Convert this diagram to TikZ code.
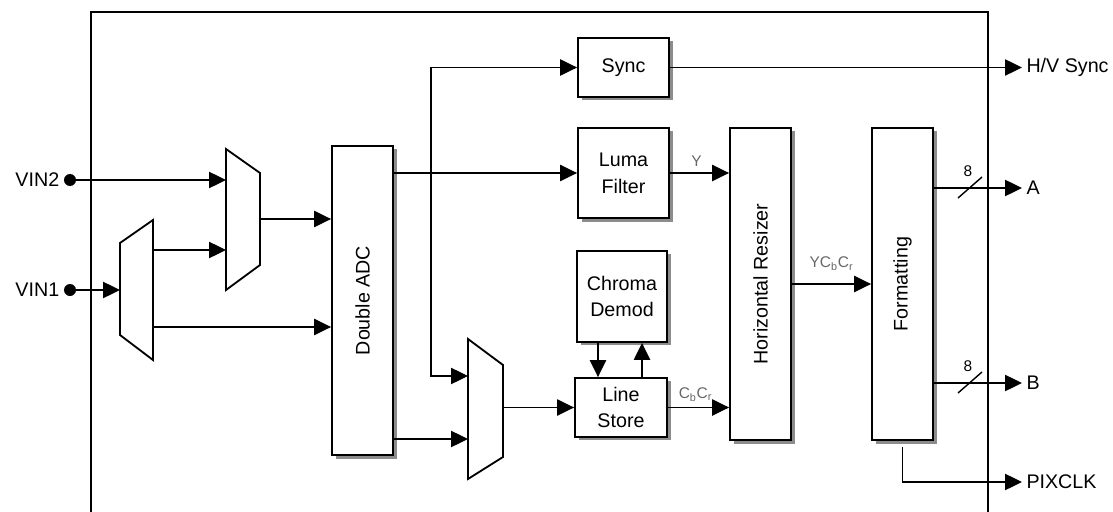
\documentclass[tikz,border=0pt]{standalone}
\usepackage{fontspec}
\setmainfont{Liberation Sans}
\usetikzlibrary{arrows.meta}
\tikzset{
  blk/.style={draw, line width=1.3pt, fill=white, align=center, inner sep=0pt,
    font=\fontsize{14}{19}\selectfont},
  boxshadow/.style={fill=black!45},
  wire/.style={line width=1pt},
  arr/.style={wire, -{Triangle[length=12pt,width=11.5pt]}},
  mux/.style={line width=1.3pt, fill=white},
  pin/.style={circle, fill=black, minimum size=0.3cm, inner sep=0pt},
  io/.style={font=\fontsize{14}{16}\selectfont, inner sep=3pt},
  sig/.style={font=\fontsize{11}{13}\selectfont, text=black!60, inner sep=1pt},
}
\begin{document}
\begin{tikzpicture}[x=0.025cm,y=-0.025cm]
  \useasboundingbox (0,0) rectangle (1113,512);
  % chip outline
  \draw[line width=2pt] (91,515) |- (988,12) -- (988,515);

  % inputs
  \node[pin] (vin2) at (70,180) {};
  \node[pin] (vin1) at (70,290) {};
  \node[io,anchor=east] at (vin2.west) {VIN2};
  \node[io,anchor=east] at (vin1.west) {VIN1};

  % input muxes
  \draw[mux] (120,243) -- (153,220) -- (153,360) -- (120,335) -- cycle;
  \draw[mux] (226,149) -- (260,173) -- (260,265) -- (226,290) -- cycle;
  \draw[mux] (468,339) -- (503,365) -- (503,457) -- (468,479) -- cycle;
  \coordinate (m1in) at (120,290);
  \coordinate (m1a) at (153,250);
  \coordinate (m1b) at (153,327);
  \coordinate (m2a) at (226,180);
  \coordinate (m2b) at (226,250);
  \coordinate (m2out) at (260,219);
  \coordinate (m3a) at (468,376);
  \coordinate (m3b) at (468,439);
  \coordinate (m3out) at (503,407.5);

  % shadows under the blocks
  \fill[boxshadow] (335.5,149.5) rectangle (396.5,458.5);
  \fill[boxshadow] (581.5,41.5) rectangle (672.5,100.5);
  \fill[boxshadow] (581.5,131.5) rectangle (672.5,221.5);
  \fill[boxshadow] (580.5,253.5) rectangle (670.5,344.5);
  \fill[boxshadow] (578.5,381) rectangle (670.5,440);
  \fill[boxshadow] (733.5,131.5) rectangle (794.5,443.5);
  \fill[boxshadow] (875.5,131.5) rectangle (936.5,443.5);

  % blocks
  \node[blk, minimum width=1.525cm, minimum height=7.725cm] (adc) at (362.5,300.5) {\rotatebox{90}{Double ADC}};
  \node[blk, minimum width=2.275cm, minimum height=1.475cm] (sync) at (623.5,67.5) {Sync};
  \node[blk, minimum width=2.275cm, minimum height=2.25cm] (luma) at (623.5,173) {Luma\\Filter};
  \node[blk, minimum width=2.25cm, minimum height=2.275cm] (chroma) at (622,296.5) {Chroma\\Demod};
  \node[blk, minimum width=2.3cm, minimum height=1.475cm] (store) at (621,407.5) {Line\\Store};
  \node[blk, minimum width=1.525cm, minimum height=7.8cm] (resz) at (760.5,284) {\rotatebox{90}{Horizontal Resizer}};
  \node[blk, minimum width=1.525cm, minimum height=7.8cm] (fmt) at (902.5,284) {\rotatebox{90}{Formatting}};

  % outputs
  \node[io,anchor=west] (hv) at (1022,67.5) {H/V Sync};
  \node[io,anchor=west] (outa) at (1022,188) {A};
  \node[io,anchor=west] (outb) at (1022,383) {B};
  \node[io,anchor=west] (pix) at (1022,482) {PIXCLK};

  % front end
  \draw[arr] (vin2) -- (m2a);
  \draw[arr] (vin1) -- (m1in);
  \draw[arr] (m1a) -- (m2b);
  \draw[arr] (m1b) -- (adc.west |- m1b);
  \draw[arr] (m2out) -- (adc.west |- m2out);

  % ADC outputs
  \coordinate (jn) at (431,173);
  \draw[arr] (adc.east |- luma.west) -- (luma.west);
  \draw[arr] (jn) |- (sync.west);
  \draw[arr] (jn) |- (m3a);
  \draw[arr] (adc.east |- m3b) -- (m3b);
  \draw[arr] (m3out) -- (store.west);
  \draw[arr] ([xshift=-0.6cm]chroma.south) -- ([xshift=-0.6cm]chroma.south |- store.north);
  \draw[arr] ([xshift=0.5cm]chroma.south |- store.north) -- ([xshift=0.5cm]chroma.south);

  % to resizer and formatter
  \draw[arr] (luma.east) -- (resz.west |- luma.east) node[sig,pos=0.45,above=3pt] {Y};
  \draw[arr] (store.east) -- (resz.west |- store.east) node[sig,pos=0.45,above=3pt] {C$_\mathrm{b}$C$_\mathrm{r}$};
  \draw[arr] (resz.east) -- (fmt.west) node[sig,midway,above=8pt] {YC$_\mathrm{b}$C$_\mathrm{r}$};

  % chip outputs
  \draw[arr] (sync.east) -- (hv.west);
  \draw[arr] (fmt.east |- outa.west) -- (outa.west);
  \draw[arr] (fmt.east |- outb.west) -- (outb.west);
  \draw[arr] ([yshift=-0.15cm]fmt.south) |- (pix.west);
  \draw[wire] (958,198) -- (982,177) node[sig,text=black,above=1pt] at (968,180) {8};
  \draw[wire] (958,393) -- (982,372) node[sig,text=black,above=1pt] at (968,375) {8};
\end{tikzpicture}
\end{document}
